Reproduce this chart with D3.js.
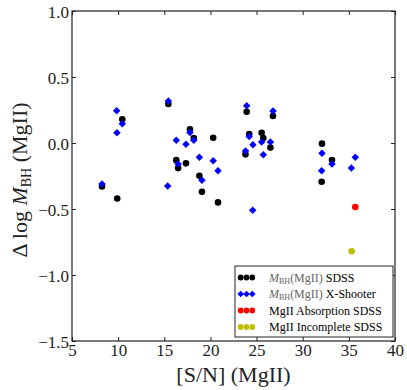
<!DOCTYPE html>
<html><head><meta charset="utf-8">
<script src="https://cdn.jsdelivr.net/npm/d3@7"></script>
<style>
body{margin:0;background:#fff;}
svg, svg text{font-family:"Liberation Serif","DejaVu Serif",serif !important;}
</style></head>
<body><svg id="c" width="407" height="390"></svg>
<script>
// ---- data ----
const sdssX = [8.25, 9.9, 10.45, 15.44, 16.3, 16.5, 17.35, 17.78, 18.2, 18.8, 19.08, 20.3, 20.82, 23.93, 24.2, 23.8, 25.55, 25.73, 26.5, 26.78, 32.09, 33.17, 32.05];
const sdssY = [-0.33, -0.42, 0.18, 0.295, -0.13, -0.19, -0.154, 0.104, 0.038, -0.248, -0.37, 0.04, -0.45, 0.237, 0.068, -0.086, 0.078, 0.038, -0.035, 0.205, -0.005, -0.129, -0.293];
const xshX = [8.25, 9.84, 10.45, 9.87, 15.44, 15.37, 16.3, 16.5, 17.35, 17.78, 18.2, 18.8, 19.08, 20.3, 20.82, 23.93, 24.2, 24.6, 23.8, 25.55, 25.73, 26.5, 26.78, 24.58, 32.09, 33.17, 32.05, 35.7, 35.27];
const xshY = [-0.31, 0.245, 0.146, 0.078, 0.318, -0.326, 0.02, -0.16, -0.01, 0.08, 0.02, -0.108, -0.283, -0.134, -0.21, 0.283, 0.05, -0.013, -0.06, 0.008, -0.089, 0.008, 0.242, -0.51, -0.078, -0.159, -0.21, -0.108, -0.19];
const absX = [35.7];
const absY = [-0.485];
const incX = [35.3];
const incY = [-0.82];
const xTicks = [5, 10, 15, 20, 25, 30, 35, 40];
const yTicks = [-1.5, -1.0, -0.5, 0.0, 0.5, 1.0];
const legendLabels = ["SDSS", "X-Shooter", "MgII Absorption SDSS", "MgII Incomplete SDSS"];

// ---- layout ----
const L = 72, R = 395, T = 11, B = 341;
const svg = d3.select("#c");
const x = d3.scaleLinear().domain([5, 40]).range([L, R]);
const y = d3.scaleLinear().domain([-1.5, 1.0]).range([B, T]);

// axes
const tickFont = 17;
const gb = svg.append("g").attr("transform", `translate(0,${B})`)
  .call(d3.axisBottom(x).tickValues(xTicks).tickSize(-4).tickPadding(3).tickFormat(d3.format("d")));
const gl = svg.append("g").attr("transform", `translate(${L},0)`)
  .call(d3.axisLeft(y).tickValues(yTicks).tickSize(-4).tickPadding(3).tickFormat(d3.format(".1f")));
const gt = svg.append("g").attr("transform", `translate(0,${T})`)
  .call(d3.axisTop(x).tickValues(xTicks).tickSize(-4).tickFormat(""));
const gr = svg.append("g").attr("transform", `translate(${R},0)`)
  .call(d3.axisRight(y).tickValues(yTicks).tickSize(-4).tickFormat(""));
[gb, gl, gt, gr].forEach(g => {
  g.attr("font-family", null).attr("font-size", null);
  g.select(".domain").remove();
  g.selectAll(".tick line").attr("stroke", "#222").attr("stroke-width", 1);
  g.selectAll(".tick text").attr("font-size", tickFont).attr("fill", "#222");
});
gl.selectAll(".tick text").attr("dy", "0.36em");

// frame
svg.append("rect").attr("x", L).attr("y", T).attr("width", R - L).attr("height", B - T)
  .attr("fill", "none").attr("stroke", "#222").attr("stroke-width", 1.2);

// diamond symbol
const diamond = d3.symbol().type(d3.symbolSquare).size(28);

// points
const plot = svg.append("g");
plot.selectAll("circle.sdss").data(d3.zip(sdssX, sdssY)).join("circle")
  .attr("class", "sdss").attr("cx", d => x(d[0])).attr("cy", d => y(d[1])).attr("r", 3.3).attr("fill", "#000");
plot.selectAll("path.xsh").data(d3.zip(xshX, xshY)).join("path")
  .attr("class", "xsh").attr("d", diamond)
  .attr("transform", d => `translate(${x(d[0])},${y(d[1])}) rotate(45)`).attr("fill", "#0000ff");
plot.selectAll("circle.abs").data(d3.zip(absX, absY)).join("circle")
  .attr("class", "abs").attr("cx", d => x(d[0])).attr("cy", d => y(d[1])).attr("r", 3.3).attr("fill", "#ff0000");
plot.selectAll("circle.inc").data(d3.zip(incX, incY)).join("circle")
  .attr("class", "inc").attr("cx", d => x(d[0])).attr("cy", d => y(d[1])).attr("r", 3.3).attr("fill", "#bfbf00");

// axis titles
svg.append("text").attr("x", (L + R) / 2).attr("y", 382).attr("text-anchor", "middle")
  .attr("font-size", 22).attr("fill", "#222").text("[S/N] (MgII)");
const yl = svg.append("text").attr("transform", `translate(27,${(T + B) / 2 + 4}) rotate(-90)`)
  .attr("text-anchor", "middle").attr("font-size", 22).attr("fill", "#222");
yl.append("tspan").text("\u0394 log ");
yl.append("tspan").attr("font-style", "italic").text("M");
yl.append("tspan").attr("font-size", 14).attr("dy", 4).text("BH");
yl.append("tspan").attr("dy", -4).text(" (MgII)");

// legend
const lg = svg.append("g");
lg.append("rect").attr("x", 235).attr("y", 266).attr("width", 158).attr("height", 71)
  .attr("fill", "#fff").attr("stroke", "#222").attr("stroke-width", 1);
const rowsY = [277.5, 294, 310.5, 327];
const mkX = [240.7, 246.5, 252.3];
const kinds = ["sdss", "xsh", "abs", "inc"];
const colors = ["#000", "#0000ff", "#ff0000", "#bfbf00"];
kinds.forEach((k, i) => {
  const gy = rowsY[i];
  mkX.forEach(mx => {
    if (k === "xsh") {
      lg.append("path").attr("d", d3.symbol().type(d3.symbolSquare).size(22)).attr("transform", `translate(${mx},${gy}) rotate(45)`).attr("fill", colors[i]);
    } else {
      lg.append("circle").attr("cx", mx).attr("cy", gy).attr("r", 2.9).attr("fill", colors[i]);
    }
  });
  const t = lg.append("text").attr("x", 269).attr("y", gy + 4).attr("font-size", 12).attr("fill", "#000");
  if (i < 2) {
    t.append("tspan").attr("font-style", "italic").attr("fill", "#666").text("M");
    t.append("tspan").attr("font-size", 8).attr("dy", 2).attr("fill", "#666").text("BH");
    t.append("tspan").attr("dy", -2).attr("fill", "#666").text("(MgII) ");
    t.append("tspan").text(legendLabels[i]);
  } else {
    t.text(legendLabels[i]);
  }
});
</script></body></html>
